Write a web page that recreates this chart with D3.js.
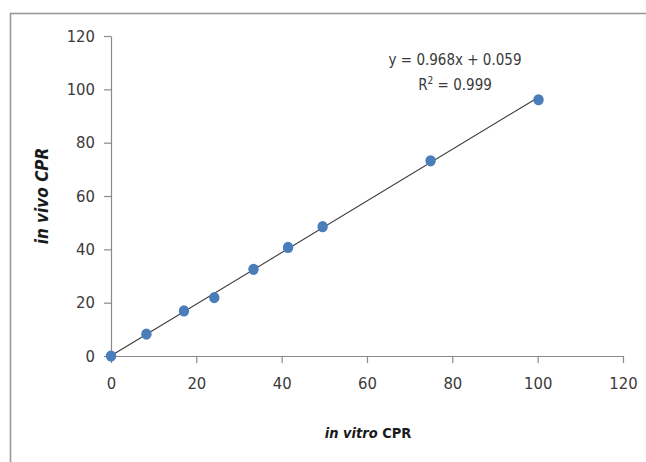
<!DOCTYPE html>
<html><head><meta charset="utf-8">
<script src="https://cdn.jsdelivr.net/npm/d3@7"></script>
<style>
html,body{margin:0;padding:0;background:#fff;}
svg{display:block;}
text{font-family:"Liberation Sans Narrow","DejaVu Sans Condensed","Liberation Sans",sans-serif;}
</style></head>
<body>
<script>
const xValues = [0, 8.3, 17.1, 24.2, 33.4, 41.5, 49.6, 74.9, 100.2];
const yValues = [0, 8.2, 16.9, 21.9, 32.5, 40.7, 48.5, 73.2, 96.1];
const tickValues = [0, 20, 40, 60, 80, 100, 120];
const slope = 0.968, intercept = 0.059;
const equationLabel = "y = 0.968x + 0.059";
const r2Label = "0.999";

const W = 646, H = 462;
const svg = d3.select("body").append("svg").attr("width", W).attr("height", H);

// chart frame
svg.append("rect").attr("x", 10.5).attr("y", 13.5).attr("width", 700).attr("height", 500)
  .attr("fill", "#fff").attr("stroke", "#9a9a9a").attr("stroke-width", 1.6);

const x = d3.scaleLinear().domain([0, 120]).range([111, 623]);
const y = d3.scaleLinear().domain([0, 120]).range([356, 36]);

const axisColor = "#8a8a8a";
const textColor = "#3a3a3a";

const xAxis = svg.append("g").attr("transform", `translate(0,${y(0)})`)
  .call(d3.axisBottom(x).tickValues(tickValues).tickSize(7).tickSizeOuter(0).tickPadding(14));
const yAxis = svg.append("g").attr("transform", `translate(${x(0)},0)`)
  .call(d3.axisLeft(y).tickValues(tickValues).tickSize(7).tickSizeOuter(0).tickPadding(9));
[xAxis, yAxis].forEach(g => {
  g.select(".domain").attr("stroke", axisColor).attr("stroke-width", 1.2);
  g.selectAll(".tick line").attr("stroke", axisColor).attr("stroke-width", 1.2);
  g.selectAll(".tick text").attr("fill", textColor).style("font-size", "16.5px");
});

// trendline
const xs = [0, d3.max(xValues)];
svg.append("line")
  .attr("x1", x(xs[0])).attr("y1", y(slope * xs[0] + intercept))
  .attr("x2", x(xs[1])).attr("y2", y(slope * xs[1] + intercept))
  .attr("stroke", "#3a3a3a").attr("stroke-width", 1.1);

// points
svg.append("g").selectAll("ellipse").data(xValues.map((v, i) => [v, yValues[i]]))
  .join("ellipse")
  .attr("cx", d => x(d[0])).attr("cy", d => y(d[1]))
  .attr("rx", 5.2).attr("ry", 5.6)
  .attr("fill", "#4a7ebb");

// equation
svg.append("text").attr("x", 455).attr("y", 65).attr("text-anchor", "middle")
  .attr("fill", textColor).style("font-size", "15px").text(equationLabel);
const r2 = svg.append("text").attr("x", 455).attr("y", 90).attr("text-anchor", "middle")
  .attr("fill", textColor).style("font-size", "15px");
r2.append("tspan").text("R");
r2.append("tspan").attr("dy", -6).style("font-size", "10px").text("2");
r2.append("tspan").attr("dy", 6).text(" = " + r2Label);

// axis titles
const xt = svg.append("text").attr("x", 368).attr("y", 438).attr("text-anchor", "middle")
  .attr("fill", "#1a1a1a").style("font-size", "14.5px").style("font-weight", "bold");
xt.append("tspan").style("font-style", "italic").text("in vitro");
xt.append("tspan").text(" CPR");

svg.append("text").attr("transform", "translate(48,196) rotate(-90)").attr("text-anchor", "middle")
  .attr("fill", "#1a1a1a").style("font-size", "17px").style("font-weight", "bold").style("font-style", "italic")
  .text("in vivo CPR");
</script>
</body></html>
